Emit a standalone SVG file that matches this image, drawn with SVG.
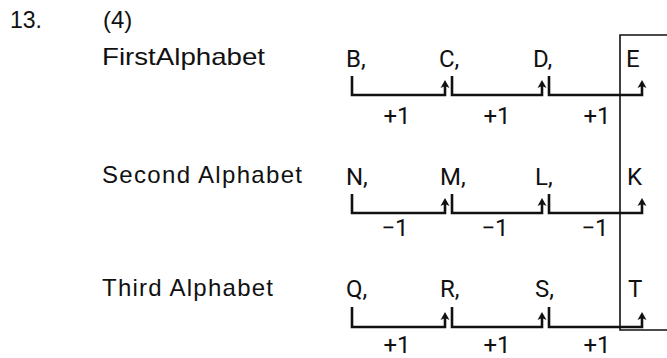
<svg xmlns="http://www.w3.org/2000/svg" width="667" height="358" viewBox="0 0 667 358">
<style>
.lbl{font-family:"Liberation Sans",Arial,sans-serif;font-size:24px;fill:#111}
.let{font-family:Roboto,"Liberation Sans",sans-serif;font-size:24px;fill:#111}
.num{font-family:Roboto,"Liberation Sans",sans-serif;font-size:24px;fill:#111;text-anchor:middle}
.br{fill:none;stroke:#111;stroke-width:2.6;stroke-linejoin:miter}
.box{fill:none;stroke:#111;stroke-width:1.6}
</style>
<defs>
<path id="ah" d="M0,0 L-4.5,8 L0,6 L4.5,8 Z" fill="#111"/>
</defs>
<rect width="667" height="358" fill="#fff"/>
<g id="header">
<text class="lbl" x="103" y="-5">(3)</text>
<text class="lbl" x="10" y="28" textLength="32" lengthAdjust="spacingAndGlyphs">13.</text>
<text class="lbl" x="103" y="28">(4)</text>
</g>
<g id="labels">
<text class="lbl" x="102" y="65" textLength="163" lengthAdjust="spacingAndGlyphs">FirstAlphabet</text>
<text class="lbl" x="102" y="183" textLength="200" lengthAdjust="spacing">Second Alphabet</text>
<text class="lbl" x="102" y="296" textLength="171" lengthAdjust="spacing">Third Alphabet</text>
</g>
<g id="row1">
<text class="let" x="346" y="67">B,</text>
<text class="let" x="439" y="67">C,</text>
<text class="let" x="533" y="67">D,</text>
<text class="let" x="626" y="67">E</text>
</g>
<g id="row2">
<text class="let" x="346" y="185">N,</text>
<text class="let" x="440" y="185">M,</text>
<text class="let" x="535" y="185">L,</text>
<text class="let" x="627" y="185">K</text>
</g>
<g id="row3">
<text class="let" x="346" y="297">Q,</text>
<text class="let" x="440" y="297">R,</text>
<text class="let" x="535" y="297">S,</text>
<text class="let" x="628" y="297">T</text>
</g>
<g id="box">
<path class="box" d="M668,35 H620 V330 H668"/>
</g>
<g id="connectors">
<path class="br" d="M352,76 V95 H445 V86"/>
<path class="br" d="M452,76 V95 H542 V86"/>
<path class="br" d="M549,76 V95 H642 V86"/>
<use href="#ah" x="445" y="80"/><use href="#ah" x="542" y="80"/><use href="#ah" x="642" y="80"/>
<path class="br" d="M352,194 V213 H445 V204"/>
<path class="br" d="M452,194 V213 H542 V204"/>
<path class="br" d="M549,194 V213 H642 V204"/>
<use href="#ah" x="445" y="198"/><use href="#ah" x="542" y="198"/><use href="#ah" x="642" y="198"/>
<path class="br" d="M352,307 V327 H445 V318"/>
<path class="br" d="M452,307 V327 H542 V318"/>
<path class="br" d="M549,307 V327 H642 V318"/>
<use href="#ah" x="445" y="312"/><use href="#ah" x="542" y="312"/><use href="#ah" x="642" y="312"/>
</g>
<g id="steps">
<text class="num" x="397" y="124">+1</text>
<text class="num" x="497" y="124">+1</text>
<text class="num" x="597" y="124">+1</text>
<text class="num" x="395" y="236">−1</text>
<text class="num" x="495" y="236">−1</text>
<text class="num" x="595" y="236">−1</text>
<text class="num" x="397" y="353">+1</text>
<text class="num" x="497" y="353">+1</text>
<text class="num" x="597" y="353">+1</text>
</g>
</svg>
